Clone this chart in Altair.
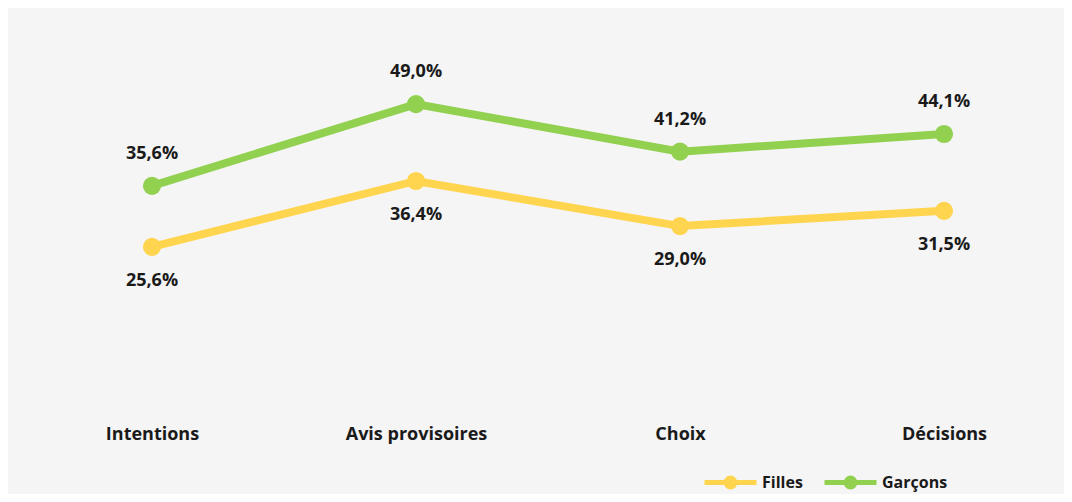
import altair as alt
import pandas as pd

categories = ["Intentions", "Avis provisoires", "Choix", "Décisions"]
series = ["Filles", "Garçons"]
filles = [25.6, 36.4, 29.0, 31.5]
garcons = [35.6, 49.0, 41.2, 44.1]
colors = ["#FFD54F", "#92D050"]

rows = []
for c, v in zip(categories, filles):
    rows.append({"cat": c, "serie": "Filles", "val": v})
for c, v in zip(categories, garcons):
    rows.append({"cat": c, "serie": "Garçons", "val": v})
df = pd.DataFrame(rows)

FONT = "Open Sans"

sym = "M-1,0L1,0M0.17,0A0.17,0.17,0,1,1,-0.17,0A0.17,0.17,0,1,1,0.17,0Z"

base = alt.Chart(df).encode(
    x=alt.X(
        "cat:N",
        sort=categories,
        scale=alt.Scale(type="point", padding=0.4545),
        axis=alt.Axis(
            title=None, domain=False, ticks=False, tickSize=0, grid=False,
            labelAngle=0, labelFont=FONT, labelFontSize=18, labelFontWeight="bold",
            labelColor="#1a1a1a", labelPadding=31, labelBaseline="middle",
        ),
    ),
    y=alt.Y("val:Q", scale=alt.Scale(domain=[0, 60]), axis=None),
)

line = base.mark_line(
    strokeWidth=8,
    strokeCap="round",
    point=alt.OverlayMarkDef(filled=True, size=330, opacity=1),
).encode(
    color=alt.Color(
        "serie:N",
        scale=alt.Scale(domain=series, range=colors),
        legend=alt.Legend(
            title=None, orient="none", direction="horizontal",
            legendX=670, legendY=417,
            symbolType=sym, symbolSize=2704, symbolStrokeWidth=5,
            labelFont=FONT, labelFontSize=16, labelFontWeight="bold",
            labelColor="#1a1a1a", labelOffset=3, columnPadding=11, padding=0,
        ),
    )
)

lab_expr = "replace(format(datum.val, '.1f'), '.', ',') + '%'"

txt_g = base.transform_filter("datum.serie == 'Garçons'").transform_calculate(
    lab=lab_expr
).mark_text(
    dy=-32, font=FONT, fontSize=18, fontWeight="bold", color="#1a1a1a", baseline="middle"
).encode(text="lab:N")

txt_f = base.transform_filter("datum.serie == 'Filles'").transform_calculate(
    lab=lab_expr
).mark_text(
    dy=34, font=FONT, fontSize=18, fontWeight="bold", color="#1a1a1a", baseline="middle"
).encode(text="lab:N")

chart = alt.layer(line, txt_g, txt_f).properties(
    width=1032,
    height=366,
    autosize=alt.AutoSizeParams(type="none"),
    padding={"left": 24, "top": 29, "right": 0, "bottom": 91},
    background="#f5f5f5",
).configure_view(stroke=None, fill=None)

chart.save("out.html", embed_options={"renderer": "svg", "actions": False})
